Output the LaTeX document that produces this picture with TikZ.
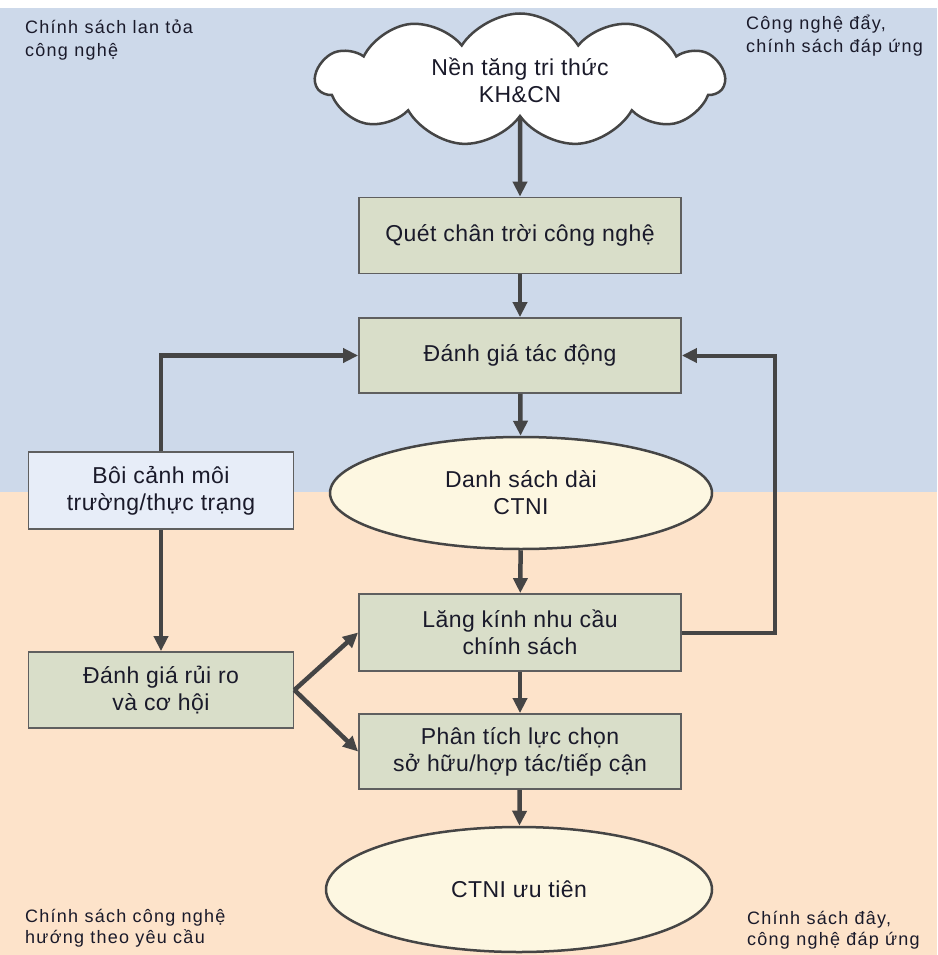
\documentclass[tikz,border=0pt]{standalone}
\usepackage{fontspec}
\setmainfont{Liberation Sans}
\newfontfamily\dgcornerfont[LetterSpace=7]{Liberation Sans}
\newfontfamily\dgboxfont[LetterSpace=2]{Liberation Sans}
\usetikzlibrary{arrows.meta,shapes.symbols,shapes.geometric}
\definecolor{bgblue}{HTML}{CDD9EA}
\definecolor{bgpeach}{HTML}{FDE3CA}
\definecolor{boxfill}{HTML}{D9DEC9}
\definecolor{ctxfill}{HTML}{E7EDF8}
\definecolor{ellfill}{HTML}{FDF7E1}
\definecolor{linecol}{HTML}{454545}
\definecolor{bordercol}{HTML}{5F5F5F}
\definecolor{txt}{HTML}{1A1A2A}
\newcommand\dgnodefont{\dgboxfont\fontsize{23}{27}\selectfont}
\newcommand\dgcfont{\dgcornerfont\fontsize{18}{23}\selectfont}
\newcommand\dgcfontb{\dgcornerfont\fontsize{18}{21}\selectfont}
\begin{document}
\begin{tikzpicture}[x=1pt,y=-1pt,
  stepbox/.style={draw=bordercol, line width=1.8pt, fill=boxfill, minimum width=322pt,
    minimum height=76pt, align=center, font=\dgnodefont, text=txt, inner sep=0pt},
  sidebox/.style={stepbox, minimum width=265pt},
  ellnode/.style={ellipse, draw=linecol, line width=2.5pt, fill=ellfill, align=center,
    font=\dgnodefont, text=txt, inner sep=0pt},
  cornertext/.style={align=left, font=\dgcfont, text=txt, inner sep=0pt, anchor=base west},
  cornertextb/.style={cornertext, font=\dgcfontb},
  arr/.style={draw=linecol, line width=4.5pt, -{Triangle[length=15pt,width=14pt]}},
  loop/.style={arr, line width=4pt}
]
\useasboundingbox (0,0) rectangle (937,955);
\fill[white] (0,0) rectangle (937,8);
\fill[bgblue] (0,8) rectangle (937,492);
\fill[bgpeach] (0,492) rectangle (937,955);

\node[cloud, cloud puffs=11, cloud puff arc=115, aspect=3, draw=linecol, line width=2.5pt,
  fill=white, minimum width=408pt, minimum height=133pt, align=center, font=\dgnodefont,
  text=txt, inner sep=0pt] (cloud) at (520,80) {Nền tăng tri thức\\KH\&CN};
\node[stepbox] (scan) at (520,235.5) {Quét chân trời công nghệ};
\node[stepbox, minimum height=75pt] (impact) at (520,355.5) {Đánh giá tác động};
\node[ellnode, minimum width=382pt, minimum height=112pt] (long) at (521,493) {Danh sách dài\\CTNI};
\node[stepbox, minimum height=77pt] (lens) at (520,632.5) {Lăng kính nhu cầu\\chính sách};
\node[stepbox, minimum height=75pt] (opt) at (520,751.5) {Phân tích lực chọn\\sở hữu/hợp tác/tiếp cận};
\node[ellnode, minimum width=386pt, minimum height=125pt] (prio) at (519,889.5) {CTNI ưu tiên};
\node[sidebox, fill=ctxfill, minimum height=77pt] (ctx) at (161,490.5) {Bôi cảnh môi\\trường/thực trạng};
\node[sidebox] (risk) at (161,690) {Đánh giá rủi ro\\và cơ hội};

\node[cornertext] (tl) at (25,57) {Chính sách lan tỏa\\công nghệ};
\node[cornertext] (tr) at (746,53) {Công nghệ đẩy,\\chính sách đáp ứng};
\node[cornertextb] (bl) at (25,943) {Chính sách công nghệ\\hướng theo yêu cầu};
\node[cornertextb] (br) at (747,945) {Chính sách đây,\\công nghệ đáp ứng};

\draw[arr] (cloud.south) -- (scan.north);
\draw[arr] (scan) -- (impact);
\draw[arr] (impact) -- (long);
\draw[arr] (long) -- (lens);
\draw[arr] (lens) -- (opt);
\draw[arr] (opt) -- (prio);
\draw[arr] (ctx.north) |- (impact.west);
\draw[arr] (ctx) -- (risk);
\draw[arr] (risk.east) -- (lens.west);
\draw[arr] (risk.east) -- (opt.west);
\draw[loop] (lens.east) -- ++(93,0) |- (impact.east);
\end{tikzpicture}
\end{document}
